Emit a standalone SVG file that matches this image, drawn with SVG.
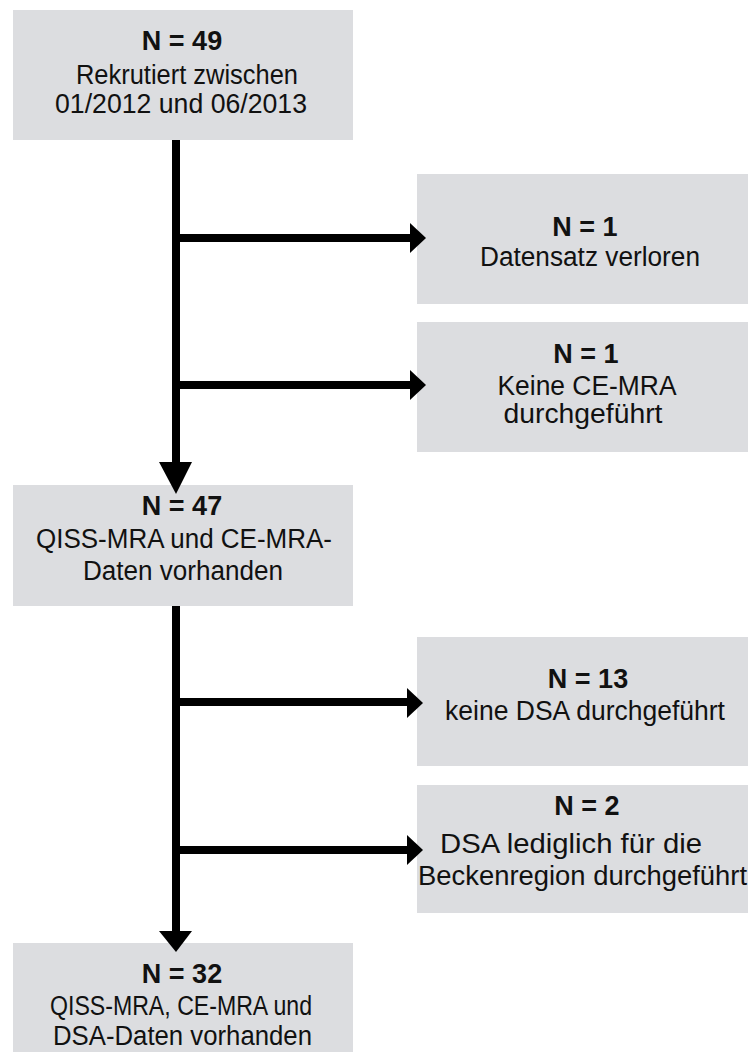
<svg xmlns="http://www.w3.org/2000/svg" width="748" height="1062" viewBox="0 0 748 1062">
<defs>
<style>
.box{fill:#dcdde0;}
.t{font-family:"Liberation Sans",Arial,sans-serif;font-size:27px;fill:#111;text-anchor:middle;}
.b{font-weight:bold;}
.ln{stroke:#000;stroke-width:8;fill:none;}
.ah{fill:#000;}
</style>
</defs>
<rect width="748" height="1062" fill="#fff"/>
<g id="n49">
<rect class="box" x="13" y="10" width="340" height="130"/>
<text class="t b" x="182" y="50">N = 49</text>
<text class="t" x="187" y="84" textLength="222" lengthAdjust="spacingAndGlyphs">Rekrutiert zwischen</text>
<text class="t" x="181" y="113" textLength="252" lengthAdjust="spacingAndGlyphs">01/2012 und 06/2013</text>
</g>
<g id="n1a">
<rect class="box" x="417" y="174" width="331" height="130"/>
<text class="t b" x="585" y="236">N = 1</text>
<text class="t" x="590" y="266" textLength="220" lengthAdjust="spacingAndGlyphs">Datensatz verloren</text>
</g>
<g id="n1b">
<rect class="box" x="417" y="322" width="331" height="130"/>
<text class="t b" x="586" y="363">N = 1</text>
<text class="t" x="587" y="395" textLength="179" lengthAdjust="spacingAndGlyphs">Keine CE-MRA</text>
<text class="t" x="583" y="423" textLength="159" lengthAdjust="spacingAndGlyphs">durchgeführt</text>
</g>
<g id="n47">
<rect class="box" x="13" y="485" width="340" height="121"/>
<text class="t b" x="182" y="515">N = 47</text>
<text class="t" x="184" y="548" textLength="296" lengthAdjust="spacingAndGlyphs">QISS-MRA und CE-MRA-</text>
<text class="t" x="183" y="580" textLength="200" lengthAdjust="spacingAndGlyphs">Daten vorhanden</text>
</g>
<g id="n13">
<rect class="box" x="417" y="637" width="331" height="129"/>
<text class="t b" x="588" y="688">N = 13</text>
<text class="t" x="585" y="720" textLength="280" lengthAdjust="spacingAndGlyphs">keine DSA durchgeführt</text>
</g>
<g id="n2">
<rect class="box" x="417" y="785" width="331" height="128"/>
<text class="t b" x="587" y="815">N = 2</text>
<text class="t" x="571" y="853" textLength="262" lengthAdjust="spacingAndGlyphs">DSA lediglich für die</text>
<text class="t" x="582.5" y="885" textLength="329" lengthAdjust="spacingAndGlyphs">Beckenregion durchgeführt</text>
</g>
<g id="n32">
<rect class="box" x="13" y="943" width="340" height="109"/>
<text class="t b" x="182" y="983">N = 32</text>
<text class="t" x="181" y="1015" textLength="262" lengthAdjust="spacingAndGlyphs">QISS-MRA, CE-MRA und</text>
<text class="t" x="182.5" y="1045" textLength="259" lengthAdjust="spacingAndGlyphs">DSA-Daten vorhanden</text>
</g>
<g id="connectors">
<line class="ln" x1="176" y1="140" x2="176" y2="464"/>
<polygon class="ah" points="159,462 192,462 176,494"/>
<line class="ln" x1="176" y1="238" x2="411" y2="238"/>
<polygon class="ah" points="410,223 426,238 410,253"/>
<line class="ln" x1="176" y1="385" x2="411" y2="385"/>
<polygon class="ah" points="410,370 426,385 410,400"/>
<line class="ln" x1="176" y1="606" x2="176" y2="933"/>
<polygon class="ah" points="159,931 192,931 176,952"/>
<line class="ln" x1="176" y1="702" x2="408" y2="702"/>
<polygon class="ah" points="407,688 423,703 407,718"/>
<line class="ln" x1="176" y1="850" x2="408" y2="850"/>
<polygon class="ah" points="407,835 423,850 407,865"/>
</g>
</svg>
